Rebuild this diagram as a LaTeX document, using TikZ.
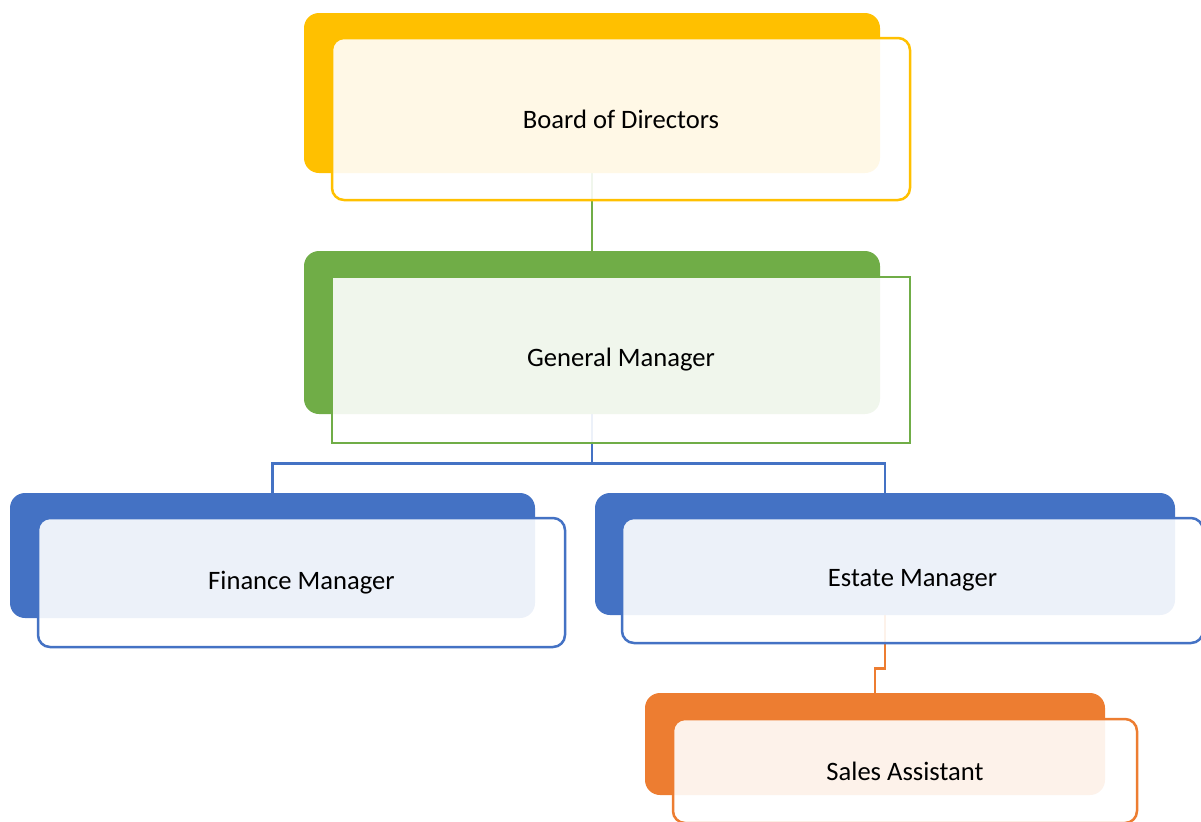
\documentclass[tikz,border=0pt]{standalone}
\usepackage{fontspec}
\setmainfont{Carlito}
\usetikzlibrary{positioning, backgrounds}
\definecolor{boardfill}{HTML}{FFC000}
\definecolor{gmfill}{HTML}{70AD47}
\definecolor{mgrfill}{HTML}{4472C4}
\definecolor{salesfill}{HTML}{ED7D31}

\begin{document}
\begin{tikzpicture}[
  x=0.5pt, y=-0.5pt,
  font=\fontsize{13.3}{16}\selectfont,
  every node/.style={align=center, text=black},
  back/.style={
    rectangle, draw=none,
    fill=#1,
    rounded corners=7.5pt,
    inner sep=0pt
  },
  frame/.style={
    rectangle, draw=#1, line width=1.25pt,
    fill=white, fill opacity=0.9, text opacity=1, draw opacity=1,
    rounded corners=6pt,
    inner sep=0pt
  },
  link/.style={line width=1.2pt, color=#1}
]
\useasboundingbox (0,0) rectangle (1201,821);

% =============================================================================
% Boxes: a solid back plate plus an offset outlined frame carrying the text.
% Coordinates are in pixels (x right, y down).
% =============================================================================

% --- Row 0: Board of Directors
\node[back=boardfill, minimum width=288pt, minimum height=80pt] (boardback) at (592, 93) {};
\node[frame=boardfill, minimum width=289pt, minimum height=81pt] (board) at (621, 119) {Board of Directors};

% --- Row 1: General Manager (square frame)
\node[back=gmfill, minimum width=288pt, minimum height=81.5pt] (gmback) at (592, 332.5) {};
\node[frame=gmfill, sharp corners, minimum width=289pt, minimum height=83pt] (gm) at (621, 360) {General Manager};

% --- Row 2: Finance Manager | Estate Manager
\node[back=mgrfill, minimum width=262.5pt, minimum height=62.5pt] (financeback) at (272.5, 555.5) {};
\node[frame=mgrfill, minimum width=263.5pt, minimum height=64.5pt] (finance) at (301.5, 582.5) {Finance Manager};

\node[back=mgrfill, minimum width=290pt, minimum height=61pt] (estateback) at (885, 554) {};
\node[frame=mgrfill, minimum width=290.5pt, minimum height=62.5pt] (estate) at (912.5, 580.5) {Estate Manager};

% --- Row 3: Sales Assistant
\node[back=salesfill, minimum width=230pt, minimum height=51pt] (salesback) at (875, 744) {};
\node[frame=salesfill, minimum width=232pt, minimum height=52pt] (sales) at (905, 771) {Sales Assistant};

% =============================================================================
% Connectors (behind the frames)
% =============================================================================
\begin{scope}[on background layer]
  \draw[link=gmfill] (boardback.south) -- (gmback.north);
  \draw[link=mgrfill] (gmback.south) -- ++(0,49) -| (financeback.north);
  \draw[link=mgrfill] (gmback.south) -- ++(0,49) -| (estateback.north);
  \draw[link=salesfill] (estateback.south) -- ++(0,53) -| (salesback.north);
\end{scope}

\end{tikzpicture}
\end{document}
